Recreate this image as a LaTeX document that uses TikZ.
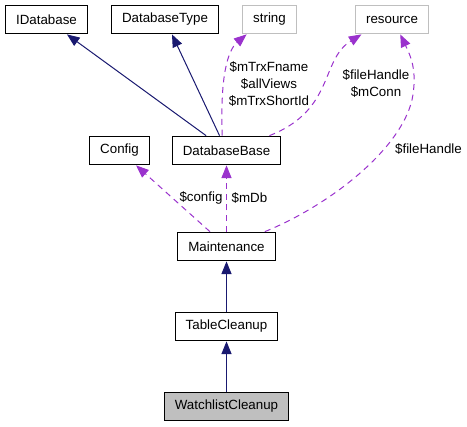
\documentclass[tikz,border=0pt]{standalone}
\usepackage{fontspec}
\setmainfont{Liberation Sans}
\usetikzlibrary{arrows.meta}
\definecolor{edgeblue}{RGB}{25,25,112}
\definecolor{edgepurple}{RGB}{154,50,205}
\definecolor{boxgray}{RGB}{191,191,191}

\begin{document}
\begin{tikzpicture}[x=0.75pt,y=-0.75pt]
   \tikzstyle{cls}=[draw,rectangle,line width=0.8pt,inner xsep=8pt,minimum height=21.5pt,font=\fontsize{10}{12}\selectfont]
   \tikzstyle{ext}=[cls,draw=boxgray]
   \tikzstyle{cur}=[cls,fill=boxgray]
   \tikzstyle{inh}=[edgeblue,line width=0.75pt,-{Triangle[length=9.5pt,width=7.5pt]}]
   \tikzstyle{use}=[edgepurple,line width=0.75pt,dash pattern=on 4.5pt off 3.5pt,-{Triangle[length=9.5pt,width=7.5pt]}]
   \tikzstyle{lbl}=[text=black,align=center,inner sep=0pt,font=\fontsize{10}{12.75}\selectfont]

   \useasboundingbox (0,0) rectangle (467,427);

   \node (idb) [cls] at (46.5,19.5) {IDatabase};
   \node (dbtype) [cls] at (165,19.5) {DatabaseType};
   \node (str) [ext] at (269.5,19.5) {string};
   \node (res) [ext] at (392,19.5) {resource};
   \node (config) [cls] at (119.5,150.5) {Config};
   \node (dbbase) [cls] at (226.5,150.5) {DatabaseBase};
   \node (maint) [cls] at (226.5,246.5) {Maintenance};
   \node (tablec) [cls] at (226.5,326.5) {TableCleanup};
   \node (watchc) [cur] at (226.5,406.5) {WatchlistCleanup};

   \draw [inh] (dbbase) -- (idb);
   \draw [inh] (dbbase) -- (dbtype);
   \draw [inh] (tablec) -- (maint);
   \draw [inh] (watchc) -- (tablec);

   \draw [use] (maint) -- (dbbase) node [lbl] at (249.5,198) {\$mDb};
   \draw [use] (maint) -- (config) node [lbl] at (201,198) {\$config};
   \draw [use] (dbbase.106) .. controls (220,75) and (228,50) .. (str.213)
      node [lbl] at (269,84) {\$mTrxFname\\\$allViews\\\$mTrxShortId};
   \draw [use] (dbbase.north east) ++(-12,0) .. controls (335,110) and (320,60) .. (res.206)
      node [lbl] at (376,84) {\$fileHandle\\\$mConn};
   \draw [use] (maint.north east) ++(-11,0) .. controls (330,205) and (400,150) .. (412,100)
      .. controls (418,70) and (410,55) .. (res.299)
      node [lbl] at (428.5,149) {\$fileHandle};
\end{tikzpicture}
\end{document}
